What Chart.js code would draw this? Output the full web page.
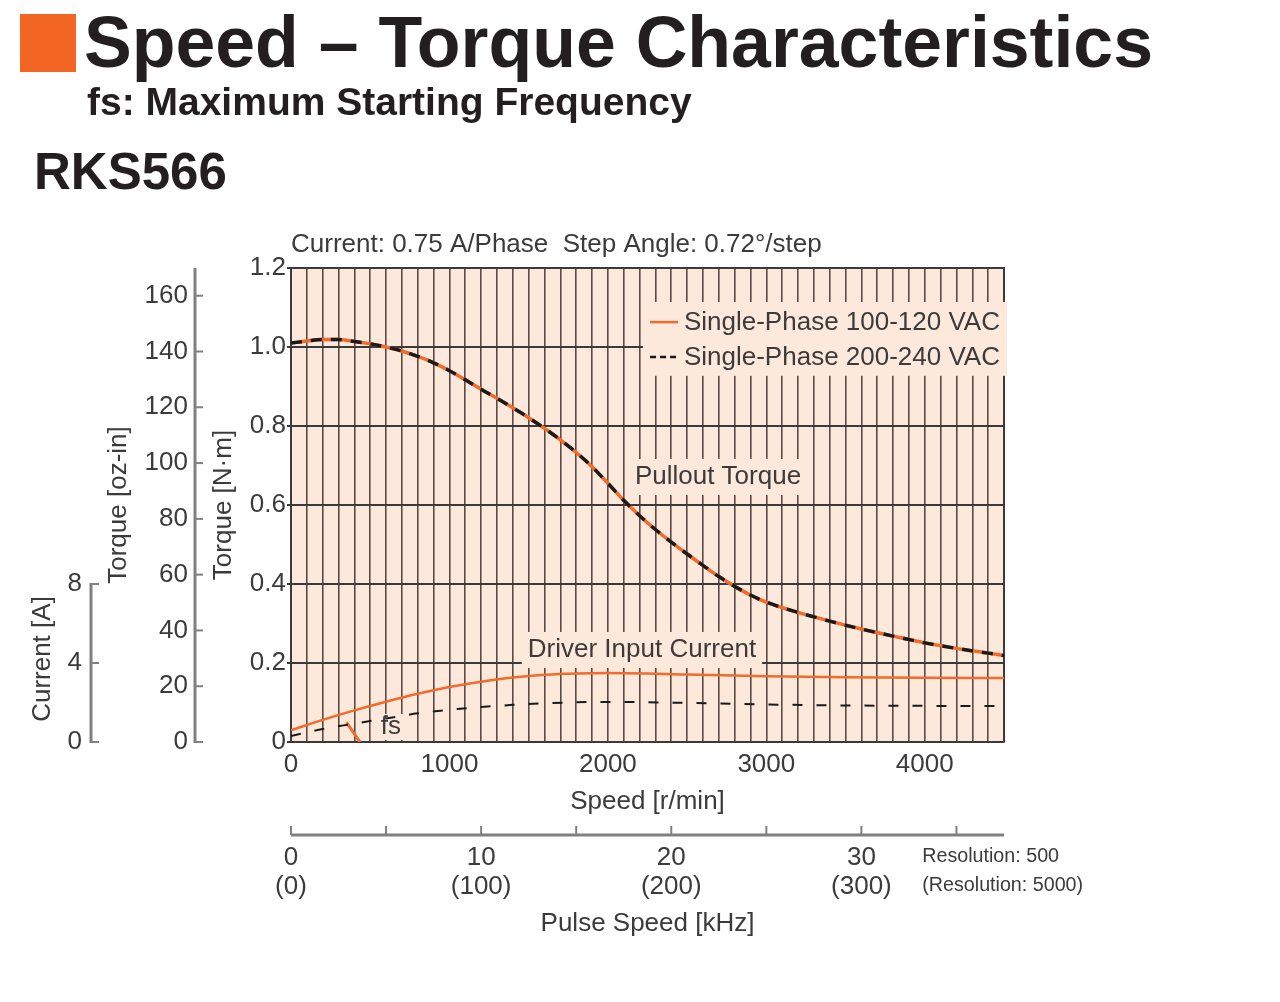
<!DOCTYPE html>
<html><head><meta charset="utf-8">
<title>Speed – Torque Characteristics RKS566</title>
<script src="https://cdn.jsdelivr.net/npm/chart.js@4.4.1/dist/chart.umd.min.js"></script>
<style>
html,body{margin:0;padding:0;background:#fff;}
#wrap{position:relative;width:1280px;height:1002px;overflow:hidden;background:#fff;}
#c{position:absolute;left:0;top:0;}
.hd{position:absolute;font-family:"Liberation Sans",Arial,Helvetica,sans-serif;font-weight:bold;color:#231f20;white-space:nowrap;line-height:1;}
#sq{position:absolute;left:20px;top:14px;width:56px;height:58px;background:#f26522;}
</style></head><body>
<div id="wrap">
<canvas id="c" width="1280" height="1002"></canvas>
<div id="sq"></div>
<div class="hd" style="left:84px;top:7px;font-size:71.6px;">Speed – Torque Characteristics</div>
<div class="hd" style="left:87px;top:82px;font-size:39px;">fs: Maximum Starting Frequency</div>
<div class="hd" style="left:34px;top:146px;font-size:51px;">RKS566</div>
</div>
<script>
// ---------------- data ----------------
const speedRpm = [0,100,200,300,400,500,600,700,800,900,1000,1100,1200,1300,1400,1500,1600,1700,1800,1900,2000,2100,2200,2300,2400,2500,2600,2700,2800,2900,3000,3200,3400,3600,3800,4000,4200,4400,4500];
const pulloutTorque100 = [1.010,1.015,1.019,1.019,1.014,1.008,1.000,0.990,0.976,0.960,0.940,0.917,0.893,0.870,0.846,0.821,0.794,0.765,0.733,0.697,0.655,0.612,0.573,0.538,0.506,0.476,0.447,0.419,0.394,0.372,0.354,0.328,0.306,0.286,0.268,0.251,0.237,0.225,0.219];
const pulloutTorque200 = [1.010,1.015,1.019,1.019,1.014,1.008,1.000,0.990,0.976,0.960,0.940,0.917,0.893,0.870,0.846,0.821,0.794,0.765,0.733,0.697,0.655,0.612,0.573,0.538,0.506,0.476,0.447,0.419,0.394,0.372,0.354,0.328,0.306,0.286,0.268,0.251,0.237,0.225,0.219];
const currentSpeedRpm = [0,200,400,600,800,1000,1200,1400,1600,1800,2000,2500,3000,3500,4000,4500];
const current100 = [0.6,1.12,1.6,2.04,2.44,2.78,3.05,3.26,3.4,3.47,3.49,3.42,3.33,3.28,3.25,3.24];
const current200 = [0.3,0.66,0.93,1.19,1.45,1.63,1.77,1.88,1.96,2.01,2.03,1.98,1.9,1.85,1.83,1.82];
const fsSpeedRpm = [350,435];
const fsTorque = [0.05,0];

const seriesNames = ['Single-Phase 100-120 VAC','Single-Phase 200-240 VAC'];
const speedTickLabels = [0,1000,2000,3000,4000];
const torqueNmTicks = [0,0.2,0.4,0.6,0.8,1.0,1.2];
const torqueOzInTicks = [0,20,40,60,80,100,120,140,160];
const currentTicks = [0,4,8];
const pulseTicks = [0,5,10,15,20,25,30,35];
const pulseLabelTicks = [0,10,20,30];
const pulseLabels500 = ['0','10','20','30'];
const pulseLabels5000 = ['(0)','(100)','(200)','(300)'];

const SPEED_MAX = 4500, NM_MAX = 1.2, OZIN_PER_NM = 141.612, CURRENT_MAX = 24, PULSE_MAX = 37.5;

// ---------------- style ----------------
const ORANGE = '#f26a2c', BLACK = '#1a1a1a', BG = '#fde9dc', TXT = '#3b3b3b', AXG = '#808080';
function hasFont(name){
  const c = document.createElement('canvas').getContext('2d');
  const s = 'Single-Phase 100-120 VAC';
  c.font = '40px monospace'; const w1 = c.measureText(s).width;
  c.font = '40px "' + name + '", monospace'; const w2 = c.measureText(s).width;
  return Math.abs(w1 - w2) > 1;
}
const NARROW = hasFont('Liberation Sans Narrow');
const FF = NARROW ? '"Liberation Sans Narrow", "Liberation Sans", Arial, sans-serif' : '"Liberation Sans", Arial, sans-serif';
const FS = NARROW ? 31 : 26;
const FS_SMALL = NARROW ? 24 : 19.7;
Chart.defaults.font.family = FF;
Chart.defaults.color = TXT;

const xy = (xs, ys) => xs.map((x, i) => ({x, y: ys[i]}));
const speedGrid = []; for (let v = 0; v <= SPEED_MAX; v += 100) speedGrid.push(v);

const annotations = {
  legend: {x0: 2222, y0: 1.114, y1: 0.927, rows: [1.063, 0.975], lineX0: 2266, lineX1: 2443, textX: 2480},
  pullout: {text: 'Pullout Torque', x: 2695, y: 0.671},
  current: {text: 'Driver Input Current', x: 2215, y: 0.233},
  fs: {text: 'fs', x: 631, y: 0.038}
};

const deco = {
  id: 'deco',
  beforeDraw(chart){
    const {ctx, chartArea: a} = chart;
    ctx.save(); ctx.fillStyle = BG; ctx.fillRect(a.left, a.top, a.right - a.left, a.bottom - a.top); ctx.restore();
  },
  beforeDatasetsDraw(chart){
    const {ctx, chartArea: a, scales} = chart;
    const xs = scales.x, ys = scales.y;
    ctx.save();
    ctx.strokeStyle = '#3a3a3a'; ctx.lineWidth = 2;
    ctx.beginPath(); ctx.moveTo(a.left, a.top); ctx.lineTo(a.right, a.top); ctx.lineTo(a.right, a.bottom); ctx.stroke();
    ctx.fillStyle = BG;
    ctx.font = FS + 'px ' + FF;
    const L = annotations.legend;
    ctx.fillRect(xs.getPixelForValue(L.x0), ys.getPixelForValue(L.y0), a.right + 3 - xs.getPixelForValue(L.x0), ys.getPixelForValue(L.y1) - ys.getPixelForValue(L.y0));
    for (const k of ['pullout','current','fs']){
      const an = annotations[k];
      const w = ctx.measureText(an.text).width + 12;
      const cx = xs.getPixelForValue(an.x), cy = ys.getPixelForValue(an.y);
      const h = k === 'fs' ? 26 : 36;
      ctx.fillRect(cx - w/2, cy - h/2, w, h);
    }
    ctx.restore();
  },
  afterDatasetsDraw(chart){
    const {ctx, scales} = chart;
    const xs = scales.x, ys = scales.y;
    ctx.save();
    ctx.fillStyle = TXT; ctx.font = FS + 'px ' + FF;
    ctx.textBaseline = 'middle'; ctx.textAlign = 'center';
    for (const k of ['pullout','current','fs']){
      const an = annotations[k];
      ctx.fillText(an.text, xs.getPixelForValue(an.x), ys.getPixelForValue(an.y));
    }
    const L = annotations.legend;
    const ds = chart.data.datasets;
    ctx.textAlign = 'left';
    for (let i = 0; i < 2; i++){
      const y = ys.getPixelForValue(L.rows[i]);
      const d = ds[i === 0 ? 1 : 0];
      ctx.strokeStyle = d.borderColor; ctx.lineWidth = 2.5;
      ctx.setLineDash(i === 0 ? [] : [6, 4]);
      ctx.beginPath(); ctx.moveTo(xs.getPixelForValue(L.lineX0), y); ctx.lineTo(xs.getPixelForValue(L.lineX1), y); ctx.stroke();
      ctx.setLineDash([]);
      ctx.fillText(seriesNames[i], xs.getPixelForValue(L.textX), y + 1);
    }
    ctx.restore();
  },
  afterDraw(chart){
    const {ctx, chartArea: a, scales} = chart;
    ctx.save();
    ctx.strokeStyle = AXG; ctx.lineWidth = 3; ctx.lineCap = 'butt';
    const oz = scales.oz, lx = oz.right - 8;
    ctx.beginPath(); ctx.moveTo(lx, oz.getPixelForValue(0) + 1); ctx.lineTo(lx, oz.top); ctx.stroke();
    ctx.lineWidth = 2;
    for (const v of torqueOzInTicks){ const y = oz.getPixelForValue(v); ctx.beginPath(); ctx.moveTo(lx, y); ctx.lineTo(lx + 8, y); ctx.stroke(); }
    const cu = scales.cur, cx = cu.right - 8;
    ctx.lineWidth = 3;
    ctx.beginPath(); ctx.moveTo(cx, cu.getPixelForValue(0) + 1); ctx.lineTo(cx, cu.getPixelForValue(8) - 1); ctx.stroke();
    ctx.lineWidth = 2;
    for (const v of currentTicks){ const y = cu.getPixelForValue(v); ctx.beginPath(); ctx.moveTo(cx, y); ctx.lineTo(cx + 8, y); ctx.stroke(); }
    const ps = scales.pulse, py = ps.top;
    ctx.lineWidth = 3;
    ctx.beginPath(); ctx.moveTo(ps.getPixelForValue(0), py); ctx.lineTo(ps.getPixelForValue(PULSE_MAX), py); ctx.stroke();
    ctx.lineWidth = 2;
    for (const v of pulseTicks){ const x = ps.getPixelForValue(v); ctx.beginPath(); ctx.moveTo(x, py); ctx.lineTo(x, py - 9); ctx.stroke(); }
    ctx.fillStyle = TXT;
    ctx.font = FS + 'px ' + FF;
    ctx.textBaseline = 'middle'; ctx.textAlign = 'left';
    ctx.fillText('Current: 0.75 A/Phase  Step Angle: 0.72°/step', a.left, a.top - 23);
    ctx.save();
    ctx.translate(cu.left + 23, cu.getPixelForValue(4) - 4);
    ctx.rotate(-Math.PI/2); ctx.textAlign = 'center';
    ctx.fillText('Current [A]', 0, 0);
    ctx.restore();
    ctx.font = FS_SMALL + 'px ' + FF;
    const rx = ps.getPixelForValue(33.2);
    ctx.fillText('Resolution: 500', rx, py + 22);
    ctx.fillText('(Resolution: 5000)', rx, py + 51);
    ctx.restore();
  }
};

const tickFont = {size: FS, lineHeight: 1};
const titleFont = {size: FS, lineHeight: 1};

new Chart(document.getElementById('c'), {
  type: 'line',
  data: {
    datasets: [
      {label: seriesNames[1] + ' pullout', data: xy(speedRpm, pulloutTorque200), yAxisID: 'y', borderColor: BLACK, borderWidth: 3.5, borderDash: [11, 9], order: 0},
      {label: seriesNames[0] + ' pullout', data: xy(speedRpm, pulloutTorque100), yAxisID: 'y', borderColor: ORANGE, borderWidth: 3.5, order: 1},
      {label: seriesNames[1] + ' current', data: xy(currentSpeedRpm, current200), yAxisID: 'cur', borderColor: BLACK, borderWidth: 2, borderDash: [10, 14], order: 2},
      {label: seriesNames[0] + ' current', data: xy(currentSpeedRpm, current100), yAxisID: 'cur', borderColor: ORANGE, borderWidth: 2.5, order: 3},
      {label: 'fs', data: xy(fsSpeedRpm, fsTorque), yAxisID: 'y', borderColor: ORANGE, borderWidth: 3, order: 4}
    ]
  },
  options: {
    responsive: false, animation: false, devicePixelRatio: 1,
    layout: {padding: {left: 20, right: 276, top: 268, bottom: 62}},
    elements: {point: {radius: 0}, line: {cubicInterpolationMode: 'monotone', fill: false}},
    plugins: {legend: {display: false}, tooltip: {enabled: false}, title: {display: false}},
    scales: {
      x: {
        type: 'linear', position: 'bottom', min: 0, max: SPEED_MAX, weight: 0,
        afterBuildTicks: s => { s.ticks = speedGrid.map(v => ({value: v})); },
        afterFit: s => { s.height = 93; },
        ticks: {autoSkip: false, maxRotation: 0, padding: 10, font: tickFont, color: TXT,
          callback: v => speedTickLabels.includes(v) ? String(v) : ''},
        grid: {color: 'rgba(45,30,26,0.78)', lineWidth: 1.6, drawTicks: false},
        border: {display: true, color: '#3a3a3a', width: 2},
        title: {display: true, text: 'Speed [r/min]', font: titleFont, color: TXT, padding: {top: 0, bottom: 20}}
      },
      pulse: {
        type: 'linear', position: 'bottom', min: 0, max: PULSE_MAX, weight: 1,
        afterBuildTicks: s => { s.ticks = pulseLabelTicks.map(v => ({value: v})); },
        afterFit: s => { s.height = 105; },
        ticks: {autoSkip: false, maxRotation: 0, padding: 8, font: {size: FS, lineHeight: '29px'}, color: TXT,
          callback: (v) => { const i = pulseLabelTicks.indexOf(v); return i < 0 ? '' : [pulseLabels500[i], pulseLabels5000[i]]; }},
        grid: {display: false, drawTicks: false},
        border: {display: false},
        title: {display: true, text: 'Pulse Speed [kHz]', font: titleFont, color: TXT, padding: {top: 0, bottom: 3}}
      },
      y: {
        type: 'linear', position: 'left', min: 0, max: NM_MAX, weight: 0,
        afterBuildTicks: s => { s.ticks = torqueNmTicks.map(v => ({value: v})); },
        afterFit: s => { s.width = 88; },
        ticks: {padding: 1, font: tickFont, color: TXT, callback: v => v === 0 ? '0' : v.toFixed(1)},
        grid: {color: '#3a3a3a', lineWidth: 2, drawTicks: true, tickLength: 4},
        border: {display: true, color: '#3a3a3a', width: 2},
        title: {display: true, text: 'Torque [N·m]', font: titleFont, color: TXT, padding: {top: 8, bottom: 0}}
      },
      oz: {
        type: 'linear', position: 'left', min: 0, max: NM_MAX * OZIN_PER_NM, weight: 1,
        afterBuildTicks: s => { s.ticks = torqueOzInTicks.map(v => ({value: v})); },
        afterFit: s => { s.width = 104; },
        ticks: {padding: 15, font: tickFont, color: TXT, callback: v => String(v)},
        grid: {display: false, drawTicks: false},
        border: {display: false},
        title: {display: true, text: 'Torque [oz-in]', font: titleFont, color: TXT, padding: {top: 7, bottom: 0}}
      },
      cur: {
        type: 'linear', position: 'left', min: 0, max: CURRENT_MAX, weight: 2,
        afterBuildTicks: s => { s.ticks = currentTicks.map(v => ({value: v})); },
        afterFit: s => { s.width = 79; },
        ticks: {padding: 17, font: tickFont, color: TXT, callback: v => String(v)},
        grid: {display: false, drawTicks: false},
        border: {display: false},
        title: {display: false}
      }
    }
  },
  plugins: [deco]
});
</script>
</body></html>
